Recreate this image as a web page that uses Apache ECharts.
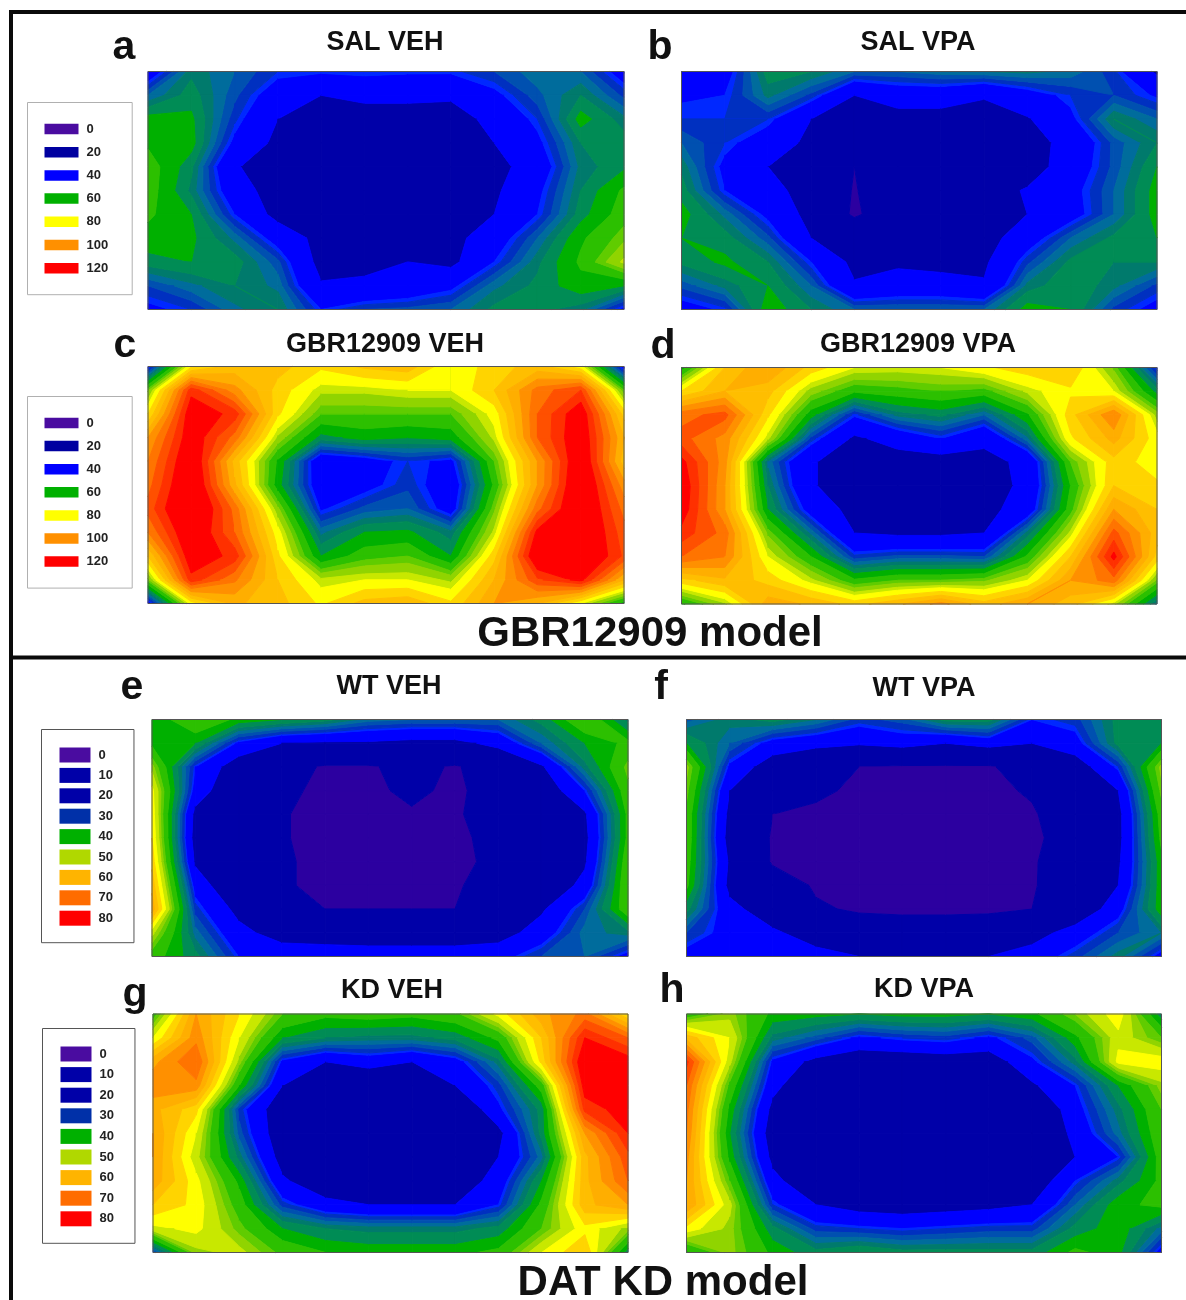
<!DOCTYPE html>
<html><head><meta charset="utf-8">
<style>html,body{margin:0;padding:0;background:#fff}#c{width:1186px;height:1300px}</style>
<script src="https://cdn.jsdelivr.net/npm/echarts@6/dist/echarts.min.js"></script>
</head><body><div id="c"></div>
<script>
// Values: 12 columns x 11 rows per panel
const salVeh = [
[36,55,50,44,43,44,43,43,47,52,50,38],
[50,58,48,37,30,33,33,32,40,49,56,46],
[62,61,45,30,24,24,24,24,34,44,62,54],
[64,62,40,27,22,22,22,22,30,40,56,58],
[68,57,31,24,22,22,22,22,26,36,54,59],
[68,55,36,24,22,22,22,23,28,40,56,66],
[66,60,42,26,22,22,22,23,30,42,58,68],
[63,61,52,38,26,23,23,26,37,50,64,72],
[58,60,58,48,26,27,30,27,42,55,66,78],
[47,52,56,52,31,32,35,40,52,57,63,60],
[40,44,52,56,42,47,48,50,57,57,54,40]];
const salVpa = [
[30,38,58,56,50,50,52,53,54,52,45,28],
[41,42,54,46,30,36,36,31,38,44,47,41],
[44,44,44,30,25,25,25,25,29,40,56,50],
[50,44,37,27,24,24,24,24,25,34,48,56],
[55,40,30,24,12,22,22,22,24,36,48,60],
[58,42,34,25,11,23,23,25,31,39,50,62],
[62,52,40,26,10,21,22,24,30,38,50,62],
[60,58,48,30,25,24,24,25,37,50,57,60],
[57,61,56,42,27,28,26,28,46,57,56,56],
[48,54,60,50,31,35,35,31,54,59,54,46],
[38,43,63,56,50,50,50,50,62,60,46,39]];
const gbrVeh = [
[40,84,92,92,86,91,93,80,88,92,82,38],
[72,118,102,88,78,78,80,80,90,107,115,70],
[85,125,118,86,70,70,70,70,82,110,125,88],
[100,125,108,76,58,62,60,62,78,110,126,95],
[105,128,93,64,35,38,44,40,70,100,128,92],
[108,130,96,62,36,39,46,36,66,100,130,102],
[112,132,108,74,41,48,50,38,72,108,130,108],
[105,128,110,82,52,60,61,54,78,122,130,112],
[90,125,118,86,60,68,70,60,88,128,130,114],
[72,118,106,90,78,80,80,76,95,114,122,95],
[38,82,96,92,84,92,94,86,100,95,80,62]];
const gbrVpa = [
[62,90,100,88,80,79,80,84,88,90,72,42],
[85,95,92,75,66,68,70,68,78,84,80,58],
[108,112,86,62,43,54,57,50,64,88,105,75],
[112,103,78,46,28,35,42,33,52,84,97,82],
[122,102,52,31,24,24,24,26,33,70,88,82],
[125,100,56,31,24,24,24,24,33,65,90,86],
[124,100,60,38,26,24,24,26,36,68,100,90],
[118,108,72,52,30,28,28,30,54,78,112,92],
[110,105,80,65,45,48,48,47,66,90,122,88],
[88,94,88,78,66,70,70,72,80,100,108,72],
[64,76,98,94,88,94,102,92,100,92,78,52]];
const wtVeh = [
[40,47,42,40,38,34,33,33,33,38,47,36],
[42,40,27,22,21,21,20,20,24,33,40,44],
[50,28,18,12,7,7,11,7,14,21,36,48],
[55,26,15,10,6,6,10,6,13,17,28,46],
[56,20,15,8.5,6,6,7,7,12,16,21,44],
[57,19,14,8.5,6,6,6,6,11,15,20,44],
[59,21,14,9,6,5,5,6,10,14,21,46],
[62,26,15,9,6,6,6,7,12,16,24,47],
[65,30,20,15,8,8,8,8,15,21,31,46],
[52,34,24,19,17,17,17,17,19,25,34,36],
[45,38,28,26,27,26,26,26,26,31,33,26]];
const wtVpa = [
[32,36,38,35,30,32,38,38,28,30,38,37],
[40,33,26,24,23,25,22,25,22,26,38,40],
[50,27,18,14,8,7,7,7,13,18,29,50],
[48,22,14,10,6,6,6,6,9,15,22,48],
[46,20,8,6,6,6,6,6,7,14,20,45],
[46,19,7,5,5,5,5,5,6,13,20,44],
[45,21,7,5,5,5,5,5,7,14,21,42],
[44,20,13,7,5,5,5,5,7,15,22,42],
[38,24,18,9,7,7,7,7,8,16,26,42],
[31,26,23,19,13,11,11,12,19,25,31,35],
[26,26,26,24,22,22,22,22,25,30,36,26]];
const kdVeh = [
[45,66,57,47,44,45,44,46,55,65,70,57],
[54,68,54,40,37,36,36,38,44,60,78,72],
[65,72,50,27,22,25,22,26,36,58,82,80],
[68,68,43,22,15,14,15,22,30,45,80,82],
[64,58,30,17,12,12,12,14,27,38,76,80],
[66,54,32,17,12,12,12,13,20,38,66,78],
[66,52,36,19,13,12,12,13,22,34,62,74],
[65,55,42,23,17,14,14,17,25,40,62,72],
[60,56,45,30,24,22,22,22,28,44,62,66],
[53,55,48,40,37,36,36,36,38,47,56,50],
[30,50,52,46,43,42,42,42,44,54,60,38]];
const kdVpa = [
[44,50,42,41,40,41,41,40,42,49,56,38],
[62,54,36,32,27,29,30,27,32,42,53,47],
[76,52,27,20,17,17,18,18,27,36,55,56],
[72,46,24,15,12,12,12,14,21,28,40,50],
[70,42,20,13,12,12,12,12,14,26,36,47],
[69,40,18,13,12,12,12,12,13,24,34,46],
[67,42,20,13,12,12,12,12,15,22,28,45],
[66,47,24,16,13,13,13,13,17,28,36,44],
[66,52,29,22,19,18,19,20,22,33,42,44],
[56,50,38,30,29,28,29,30,30,38,42,34],
[42,50,42,38,40,38,38,38,38,44,41,26]];

const panelNames = ['SAL VEH','SAL VPA','GBR12909 VEH','GBR12909 VPA','WT VEH','WT VPA','KD VEH','KD VPA'];
const panelLetters = ['a','b','c','d','e','f','g','h'];
const modelNames = ['GBR12909 model','DAT KD model'];
const legendA = ['0','20','40','60','80','100','120'];
const legendB = ['0','10','20','30','40','50','60','70','80'];
const legendColorsA = ['#4A0CA0','#0000A0','#0000FF','#00B000','#FFFF00','#FF9000','#FF0000'];
const legendColorsB = ['#4A0CA0','#0000A8','#0000A8','#0030A8','#00B000','#B0D800','#FFB400','#FF6C00','#FF0000'];
const levelsA = [12,30,42,44,47,50,53,56,60,65,70,73,77,80,85,90,95,100,105,110,115,120];
const levelsB = [8,22,28,29,31,33,35,37,40,43,47,49,51,54,57,60,63,66,69,72,75,78];
const bandColors = ['#2C00A0','#0000A8','#0000FF','#0028FF','#0030C0','#0050B0','#006C9C','#007A6C','#008C55','#00B000','#2CC000','#60CC00','#90D400','#C8E800','#FFFF00','#FFD400','#FFBE00','#FFAE00','#FF9000','#FF7400','#FF5000','#FF3000','#FF0000'];

// Layout
const panels = [
 {m:salVeh,lv:levelsA,x:148,y:71.5,w:476,h:238,t:[385,43],l:[124,48],ticks:true},
 {m:salVpa,lv:levelsA,x:681.5,y:71.5,w:475.5,h:238,t:[918,43],l:[660,48],ticks:true},
 {m:gbrVeh,lv:levelsA,x:148,y:366.5,w:476,h:237,t:[385,345],l:[125,346],ticks:true},
 {m:gbrVpa,lv:levelsA,x:681.5,y:367.5,w:475.5,h:236.5,t:[918,345],l:[663,347],ticks:true},
 {m:wtVeh,lv:levelsB,x:152,y:719.5,w:476,h:237,t:[389,687],l:[132,688]},
 {m:wtVpa,lv:levelsB,x:686.5,y:719.5,w:475,h:237,t:[924,689],l:[661,688]},
 {m:kdVeh,lv:levelsB,x:153,y:1014,w:475,h:238.5,t:[392,991],l:[135,995]},
 {m:kdVpa,lv:levelsB,x:686.5,y:1014,w:475,h:238.5,t:[924,990],l:[672,991]}
];

function clipAt(poly, level, sign){
  const out=[];
  for(let i=0;i<poly.length;i++){
    const a=poly[i], b=poly[(i+1)%poly.length];
    const da=sign*(a[2]-level), db=sign*(b[2]-level);
    if(da>=0) out.push(a);
    if((da>=0)!==(db>=0)){
      const t=da/(da-db);
      out.push([a[0]+(b[0]-a[0])*t,a[1]+(b[1]-a[1])*t,a[2]+(b[2]-a[2])*t]);
    }
  }
  return out;
}
function contourCell(panel){
  const m=panel.m, lv=panel.lv;
  return function(params, api){
    const c=api.value(0), r=api.value(1), children=[];
    if(c<m[0].length-1 && r<m.length-1){
      const quad=[[c,r,m[r][c]],[c+1,r,m[r][c+1]],[c+1,r+1,m[r+1][c+1]],[c,r+1,m[r+1][c]]];
      for(let k=0;k<bandColors.length;k++){
        const lo=k===0?-1e9:lv[k-1], hi=k===lv.length?1e9:lv[k];
        let p=clipAt(quad,lo,1); if(p.length<3) continue;
        p=clipAt(p,hi,-1); if(p.length<3) continue;
        children.push({type:'polygon',silent:true,
          shape:{points:p.map(q=>api.coord([q[0],q[1]]))},
          style:{fill:bandColors[k],stroke:bandColors[k],lineWidth:1,lineJoin:'round'}});
      }
    }
    if(c===0&&r===0){
      const p0=api.coord([0,0]), p1=api.coord([m[0].length-1,m.length-1]);
      children.push({type:'rect',silent:true,z2:50,
        shape:{x:p0[0],y:p0[1],width:p1[0]-p0[0],height:p1[1]-p0[1]},
        style:{fill:null,stroke:'#555',lineWidth:1}});
    }
    return {type:'group',children};
  };
}
const FONT='"Liberation Sans",Arial,sans-serif';
const grids=[],xAxes=[],yAxes=[],series=[],titles=[];
panels.forEach((p,i)=>{
  grids.push({left:p.x,top:p.y,width:p.w,height:p.h,show:false});
  xAxes.push({type:'value',gridIndex:i,min:0,max:11,interval:1,axisLabel:{show:false},splitLine:{show:false},
    axisLine:{show:false},axisTick:{show:!!p.ticks,length:2,lineStyle:{color:'#bbb',width:1},interval:0}});
  yAxes.push({type:'value',gridIndex:i,min:0,max:10,interval:1,inverse:true,axisLabel:{show:false},splitLine:{show:false},axisLine:{show:false},axisTick:{show:false}});
  const data=[];
  p.m.forEach((row,r)=>row.forEach((v,c)=>data.push([c,r,v])));
  series.push({type:'custom',name:panelNames[i],xAxisIndex:i,yAxisIndex:i,data,encode:{x:0,y:1},animation:false,silent:true,renderItem:contourCell(p)});
  titles.push({text:panelNames[i],left:p.t[0],top:p.t[1],textAlign:'center',textVerticalAlign:'middle',padding:0,
    textStyle:{fontFamily:FONT,fontWeight:'bold',fontSize:27,color:'#111'}});
  titles.push({text:panelLetters[i],left:p.l[0],top:p.l[1],textAlign:'center',textVerticalAlign:'middle',padding:0,
    textStyle:{fontFamily:FONT,fontWeight:'bold',fontSize:41,color:'#111'}});
});
[[650,634,0],[663,1283,1]].forEach(q=>titles.push({text:modelNames[q[2]],left:q[0],top:q[1],textAlign:'center',textVerticalAlign:'middle',padding:0,
  textStyle:{fontFamily:FONT,fontWeight:'bold',fontSize:42,color:'#111'}}));

function legendBox(labels,colors,left,top,iw,ih,gap,pad,border){
  return {type:'piecewise',seriesIndex:[],show:true,left,top,orient:'vertical',inverse:true,itemWidth:iw,itemHeight:ih,itemGap:gap,
    itemSymbol:'rect',selectedMode:false,hoverLink:false,padding:pad,textGap:8,borderWidth:1,borderColor:border,backgroundColor:'#fff',
    pieces:labels.map((t,i)=>({value:+t,label:t,color:colors[i]})),
    textStyle:{fontFamily:FONT,fontWeight:'bold',fontSize:13,color:'#222'}};
}
const option={
  animation:false,backgroundColor:'#fff',
  title:titles,grid:grids,xAxis:xAxes,yAxis:yAxes,series,
  visualMap:[
    legendBox(legendA,legendColorsA,27,102,34,10.5,10.2,[20,24,20,17],'#b0b0b0'),
    legendBox(legendA,legendColorsA,27,396,34,10.5,10.1,[20,24,20,17],'#b0b0b0'),
    legendBox(legendB,legendColorsB,41,729,31,15,5.4,[18,21,17,18],'#555'),
    legendBox(legendB,legendColorsB,42,1028,31,15,5.6,[18,21,17,18],'#555')
  ],
  graphic:[
    {type:'rect',silent:true,shape:{x:9,y:10,width:1177,height:4},style:{fill:'#0a0a0a'}},
    {type:'rect',silent:true,shape:{x:9,y:10,width:4,height:1290},style:{fill:'#0a0a0a'}},
    {type:'rect',silent:true,shape:{x:9,y:655.5,width:1177,height:4},style:{fill:'#0a0a0a'}}
  ]
};
const chart=echarts.init(document.getElementById('c'),null,{renderer:'canvas',width:1186,height:1300});
chart.setOption(option);
</script></body></html>
